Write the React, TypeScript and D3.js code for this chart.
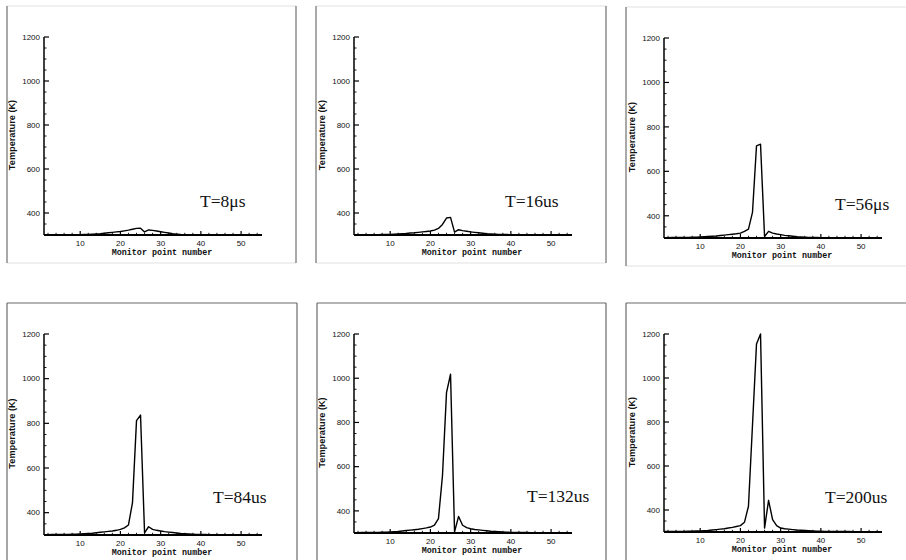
import React from "react";
import * as d3 from "d3";

// Temperature (K) at monitor points 1..55 for each time step
const temp8us = [
  300, 300, 300, 300, 300, 300, 300, 300, 300, 301,
  302, 303, 304, 305, 306, 308, 310, 312, 314, 316,
  319, 322, 326, 330, 331, 314, 323, 321, 318, 315,
  312, 309, 306, 304, 302, 301, 300, 300, 300, 300,
  300, 300, 300, 300, 300, 300, 300, 300, 300, 300,
  300, 300, 300, 300, 300,
];
const temp16us = [
  300, 300, 300, 300, 301, 301, 301, 302, 302, 303,
  304, 305, 306, 307, 309, 310, 312, 314, 316, 318,
  322, 330, 348, 377, 380, 313, 324, 320, 317, 314,
  312, 310, 308, 306, 305, 304, 303, 302, 302, 301,
  300, 300, 300, 300, 300, 300, 300, 300, 300, 300,
  300, 300, 300, 300, 300,
];
const temp56us = [
  301, 301, 302, 302, 302, 303, 303, 304, 304, 305,
  306, 307, 308, 309, 311, 313, 315, 317, 319, 322,
  330, 340, 415, 715, 722, 307, 330, 322, 318, 315,
  312, 310, 308, 306, 305, 304, 303, 302, 302, 301,
  301, 300, 300, 300, 300, 300, 300, 300, 300, 300,
  300, 300, 300, 300, 300,
];
const temp84us = [
  301, 301, 302, 302, 302, 303, 303, 304, 304, 305,
  306, 307, 308, 310, 312, 314, 316, 318, 321, 325,
  332, 345, 445, 812, 837, 310, 337, 325, 321, 318,
  315, 313, 311, 309, 307, 306, 305, 304, 303, 302,
  302, 301, 301, 301, 300, 300, 300, 300, 300, 300,
  300, 300, 300, 300, 300,
];
const temp132us = [
  301, 301, 302, 302, 302, 303, 303, 304, 304, 305,
  306, 307, 309, 311, 313, 315, 317, 320, 323, 327,
  336, 365, 560, 935, 1018, 305, 375, 335, 324, 319,
  316, 314, 312, 310, 308, 307, 306, 305, 304, 303,
  303, 302, 302, 302, 301, 301, 301, 301, 301, 301,
  300, 300, 300, 300, 300,
];
const temp200us = [
  302, 302, 302, 303, 303, 303, 304, 304, 305, 305,
  306, 307, 309, 311, 313, 315, 318, 321, 325, 329,
  344, 417, 785, 1155, 1200, 318, 444, 356, 329, 318,
  315, 313, 311, 309, 308, 307, 306, 305, 304, 304,
  303, 303, 303, 302, 302, 302, 302, 301, 301, 301,
  301, 301, 301, 301, 301,
];

const timeLabels = ["T=8\u03bcs", "T=16us", "T=56\u03bcs", "T=84us", "T=132us", "T=200us"];
const seriesList = [temp8us, temp16us, temp56us, temp84us, temp132us, temp200us];

const xMajorTicks = [10, 20, 30, 40, 50];
const yMajorTicks = [400, 600, 800, 1000, 1200];
const xDomain = [1, 55.2];
const yDomain = [300, 1200];

// Placement of each sub-plot on the page
const layouts = [
  { fx: 7, fy: 6, fw: 289, fh: 257, ox: 44, top: 37, bottom: 235, lx: 200, ly: 207, light: true },
  { fx: 316, fy: 6, fw: 290, fh: 257, ox: 354, top: 37, bottom: 235, lx: 505, ly: 207, light: true },
  { fx: 626, fy: 7, fw: 300, fh: 259, ox: 664, top: 38, bottom: 238, lx: 835, ly: 210, light: true },
  { fx: 7, fy: 303, fw: 290, fh: 300, ox: 44, top: 334, bottom: 535, lx: 213, ly: 503, light: false },
  { fx: 317, fy: 303, fw: 289, fh: 300, ox: 354, top: 334, bottom: 533, lx: 527, ly: 502, light: false },
  { fx: 626, fy: 303, fw: 300, fh: 300, ox: 664, top: 334, bottom: 532, lx: 825, ly: 503, light: false },
];

const PLOT_W = 218;

function Panel({ values, label, lay }) {
  const x = d3.scaleLinear().domain(xDomain).range([lay.ox, lay.ox + PLOT_W]);
  const y = d3.scaleLinear().domain(yDomain).range([lay.bottom, lay.top]);
  const line = d3
    .line<number>()
    .x((_, i) => x(i + 1))
    .y((d) => y(d));

  const xMinor = d3.range(2, 55, 2).filter((v) => v % 10 !== 0);
  const yMinor = d3.range(350, 1200, 50).filter((v) => v % 200 !== 0);

  const side = lay.light ? "#707070" : "#6a6a6a";
  const edge = lay.light ? "#e2e2e2" : "#6a6a6a";
  const { fx, fy, fw, fh } = lay;

  return (
    <g>
      {/* frame */}
      <line x1={fx} y1={fy} x2={fx + fw} y2={fy} stroke={edge} strokeWidth={1.2} />
      <line x1={fx} y1={fy + fh} x2={fx + fw} y2={fy + fh} stroke={edge} strokeWidth={1.2} />
      <line x1={fx} y1={fy} x2={fx} y2={fy + fh} stroke={side} strokeWidth={1.2} />
      <line x1={fx + fw} y1={fy} x2={fx + fw} y2={fy + fh} stroke={side} strokeWidth={1.2} />

      {/* data curve */}
      <path d={line(values) || ""} fill="none" stroke="#000" strokeWidth={1.4} strokeLinejoin="round" />

      {/* axes */}
      <line x1={lay.ox} y1={y(1200)} x2={lay.ox} y2={lay.bottom} stroke="#000" strokeWidth={1.5} />
      <line x1={lay.ox} y1={lay.bottom} x2={lay.ox + PLOT_W} y2={lay.bottom} stroke="#000" strokeWidth={2} />

      {xMajorTicks.map((t) => (
        <g key={"xm" + t}>
          <line x1={x(t)} x2={x(t)} y1={lay.bottom} y2={lay.bottom - 4} stroke="#000" strokeWidth={1.2} />
          <text
            x={x(t)}
            y={lay.bottom + 11}
            textAnchor="middle"
            fontFamily="'Liberation Sans', Arial, sans-serif"
            fontSize={8}
            fill="#111"
          >
            {t}
          </text>
        </g>
      ))}
      {xMinor.map((t) => (
        <line key={"xn" + t} x1={x(t)} x2={x(t)} y1={lay.bottom} y2={lay.bottom - 2.2} stroke="#000" strokeWidth={0.9} />
      ))}

      {yMajorTicks.map((t) => (
        <g key={"ym" + t}>
          <line x1={lay.ox} x2={lay.ox + 5} y1={y(t)} y2={y(t)} stroke="#000" strokeWidth={1.2} />
          <text
            x={lay.ox - 4}
            y={y(t) + 2.8}
            textAnchor="end"
            fontFamily="'Liberation Sans', Arial, sans-serif"
            fontSize={8}
            fill="#111"
          >
            {t}
          </text>
        </g>
      ))}
      {yMinor.map((t) => (
        <line key={"yn" + t} x1={lay.ox} x2={lay.ox + 2.5} y1={y(t)} y2={y(t)} stroke="#000" strokeWidth={0.9} />
      ))}

      {/* axis titles */}
      <text
        transform={`translate(${lay.ox - 29}, ${(lay.top + lay.bottom) / 2 - 1}) rotate(-90)`}
        textAnchor="middle"
        fontFamily="'Liberation Sans', Arial, sans-serif"
        fontWeight="bold"
        fontSize={9.2}
        fill="#111"
      >
        Temperature (K)
      </text>
      <text
        x={lay.ox + 118}
        y={lay.bottom + 20}
        textAnchor="middle"
        fontFamily="'Liberation Mono', 'Courier New', monospace"
        fontWeight="bold"
        fontSize={8.4}
        fill="#111"
      >
        Monitor point number
      </text>

      {/* time stamp */}
      <text
        x={lay.lx}
        y={lay.ly}
        fontFamily="'Liberation Serif', 'Times New Roman', serif"
        fontSize={17.5}
        fill="#111"
      >
        {label}
      </text>
    </g>
  );
}

export default function App() {
  return (
    <svg
      width={906}
      height={560}
      style={{ position: "absolute", left: 0, top: 0, background: "#fff" }}
    >
      <rect x={0} y={0} width={906} height={560} fill="#fff" />
      {seriesList.map((vals, i) => (
        <Panel key={i} values={vals} label={timeLabels[i]} lay={layouts[i]} />
      ))}
    </svg>
  );
}
